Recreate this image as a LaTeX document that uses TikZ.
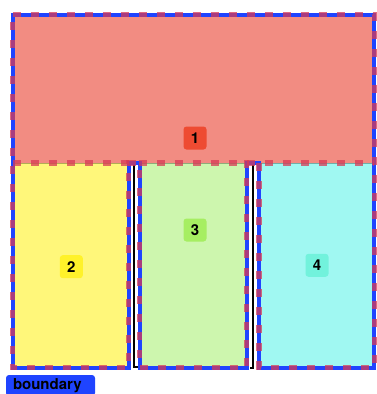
\documentclass[tikz,border=0pt]{standalone}
\usepackage{fontspec}
\setsansfont{TeX Gyre Heros}
\usepackage{xcolor}
\usetikzlibrary{positioning}
\definecolor{fillA}{HTML}{F28C82}
\definecolor{tagA}{HTML}{EE4B32}
\definecolor{fillB}{HTML}{FFF77A}
\definecolor{tagB}{HTML}{FFF22A}
\definecolor{fillC}{HTML}{CDF6AE}
\definecolor{tagC}{HTML}{A6EE62}
\definecolor{fillD}{HTML}{A0F8F2}
\definecolor{tagD}{HTML}{72F2DC}
\definecolor{bndblue}{HTML}{1F44FF}
\definecolor{cutred}{HTML}{D83A55}
\tikzset{
  region/.style={
    line width=1pt,
  },
  tag/.style={
    shape = rectangle,
    rounded corners=3pt,
    minimum size=23pt,
    inner sep=0pt,
    text=black,
    font=\sffamily\bfseries\fontsize{15}{15}\selectfont
  },
  bnd/.style={
    draw=bndblue,
    line width=4pt,
  },
  cut/.style={
    draw=cutred,
    line width=5.5pt,
    draw opacity=0.75,
    dash pattern=on 8pt off 10pt,
  },
  wall/.style={
    draw=black,
    line width=2pt,
  }
}

\begin{document}
\begin{tikzpicture}[x=1pt,y=-1pt]
        \useasboundingbox (0,0) rectangle (377,394);
        % regions
        \filldraw[region,fill=fillA,draw=fillA!70!black] (12.5,14.7) rectangle (374.3,163);
        \filldraw[region,fill=fillB,draw=fillB!70!black] (12.5,163) rectangle (128.5,367.5);
        \filldraw[region,fill=fillC,draw=fillC!70!black] (139.5,163) rectangle (246.7,367.5);
        \filldraw[region,fill=fillD,draw=fillD!70!black] (259,163) rectangle (374.3,367.5);
        % walls in the gaps
        \draw[wall] (134,165) -- (134,366.5) -- (138,366.5);
        \draw[wall] (253.2,165) -- (253.2,367.5) -- (250,367.5);
        % boundary
        \draw[bnd] (12.5,14.7) -- (374.3,14.7) -- (374.3,367.5) -- (259,367.5)
          -- (259,163) -- (246.7,163) -- (246.7,367.5) -- (139.5,367.5)
          -- (139.5,163) -- (128.5,163) -- (128.5,367.5) -- (12.5,367.5) -- cycle;
        \draw[cut] (12.5,14.7) -- (374.3,14.7) -- (374.3,367.5) -- (259,367.5)
          -- (259,163) -- (246.7,163) -- (246.7,367.5) -- (139.5,367.5)
          -- (139.5,163) -- (128.5,163) -- (128.5,367.5) -- (12.5,367.5) -- cycle;
        \draw[cut] (12.5,163) -- (374.3,163);
        % labels
        \node[tag,fill=tagA] (lbl1) at (195,138) {1};
        \node[tag,fill=tagB] (lbl2) at (71.3,266.7) {2};
        \node[tag,fill=tagC] (lbl3) at (195,230) {3};
        \node[tag,fill=tagD] (lbl4) at (317,265.3) {4};
        \node[tag,fill=bndblue,minimum height=21pt,text width=75pt,align=left,inner xsep=7pt] (bndlbl) at (50.5,385.5) {boundary};
    \end{tikzpicture}
\end{document}
